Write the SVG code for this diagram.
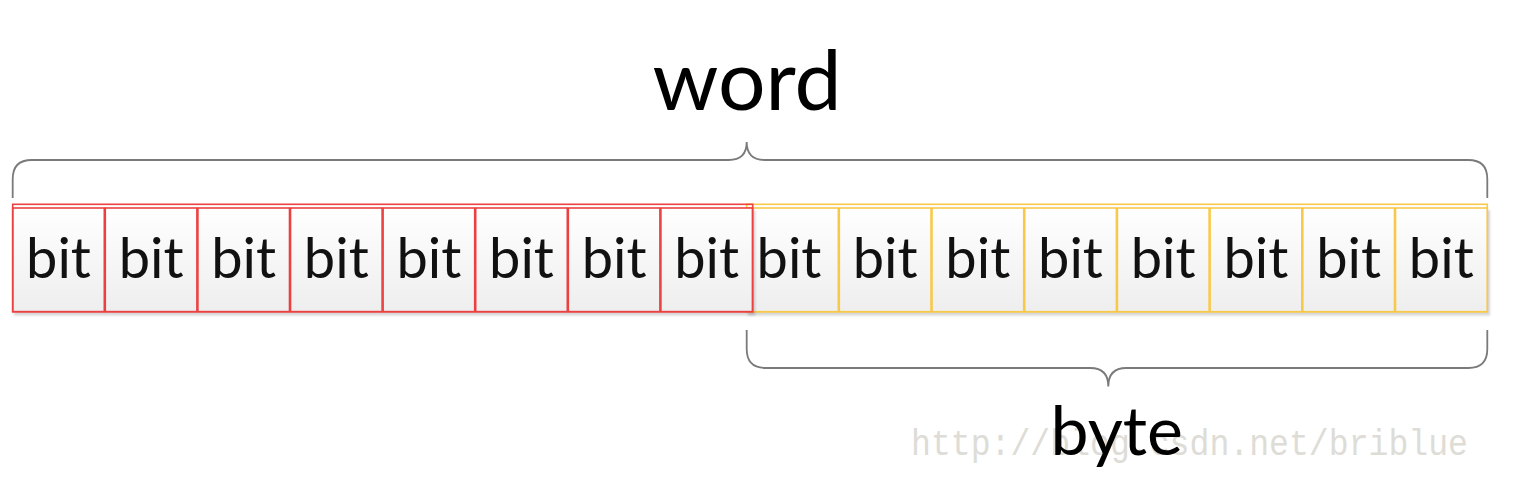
<svg xmlns="http://www.w3.org/2000/svg" width="1538" height="492" viewBox="0 0 1538 492">
  <defs>
    <linearGradient id="cellFill" x1="0" y1="0" x2="0" y2="1">
      <stop offset="0" stop-color="#ffffff"/>
      <stop offset="1" stop-color="#eeeeee"/>
    </linearGradient>
    <filter id="shadow" x="-10%" y="-10%" width="130%" height="130%">
      <feDropShadow dx="2" dy="3" stdDeviation="1" flood-color="#000000" flood-opacity="0.16"/>
    </filter>
  </defs>
  <style>
    .cell { fill: url(#cellFill); stroke-width: 1.6; }
    .red { stroke: #ec4141; }
    .yellow { stroke: #f8c94a; }
    .outer { fill: none; stroke-width: 1.6; }
    .bit { font-family: Lato, "Open Sans", sans-serif; font-size: 56px; fill: #111111; text-anchor: middle; }
    .label { font-family: Lato, "Open Sans", sans-serif; fill: #000000; text-anchor: middle; }
    .brace { fill: none; stroke: #7a7a7a; stroke-width: 1.8; }
    .wm { font-family: "Liberation Mono", monospace; font-size: 36px; fill: #dedcd6; }
  </style>
  <rect width="1538" height="492" fill="#ffffff"/>

  <text class="wm" x="911" y="455" textLength="557" lengthAdjust="spacingAndGlyphs">http://blog.csdn.net/briblue</text>

  <g id="connectors">
    <path class="brace" d="M12.7,198 V179 Q12.7,160 31.7,160 H728.7 Q746.7,160 746.7,142 Q746.7,160 764.7,160 H1468.3 Q1487.3,160 1487.3,179 V198"/>
    <path class="brace" d="M746.7,330 V349 Q746.7,368 765.7,368 H1090.3 Q1108.3,368 1108.3,386.5 Q1108.3,368 1126.3,368 H1468.3 Q1487.3,368 1487.3,349 V330"/>
  </g>

  <g id="byte-group">
    <rect class="outer yellow" x="746.6" y="204.3" width="740.7" height="107.4"/>
    <g id="byte-bits" filter="url(#shadow)">
      <rect class="cell yellow" x="746.6" y="208" width="91.7" height="103.7"/>
      <rect class="cell yellow" x="839.3" y="208" width="91.7" height="103.7"/>
      <rect class="cell yellow" x="932.0" y="208" width="91.7" height="103.7"/>
      <rect class="cell yellow" x="1024.7" y="208" width="91.7" height="103.7"/>
      <rect class="cell yellow" x="1117.4" y="208" width="91.7" height="103.7"/>
      <rect class="cell yellow" x="1210.1" y="208" width="91.7" height="103.7"/>
      <rect class="cell yellow" x="1302.8" y="208" width="91.7" height="103.7"/>
      <rect class="cell yellow" x="1395.5" y="208" width="91.7" height="103.7"/>
    </g>
  </g>

  <g id="word-group">
    <g id="word-bits" filter="url(#shadow)">
      <rect class="cell red" x="12.7" y="208" width="91.6" height="103.7"/>
      <rect class="cell red" x="105.3" y="208" width="91.6" height="103.7"/>
      <rect class="cell red" x="197.9" y="208" width="91.6" height="103.7"/>
      <rect class="cell red" x="290.5" y="208" width="91.6" height="103.7"/>
      <rect class="cell red" x="383.1" y="208" width="91.6" height="103.7"/>
      <rect class="cell red" x="475.7" y="208" width="91.6" height="103.7"/>
      <rect class="cell red" x="568.3" y="208" width="91.6" height="103.7"/>
      <rect class="cell red" x="660.9" y="208" width="91.6" height="103.7"/>
    </g>
    <rect class="outer red" x="12.7" y="204.3" width="740" height="107.4"/>
  </g>

  <g id="bit-labels">
    <text class="bit" x="58.5" y="278">bit</text>
    <text class="bit" x="151.1" y="278">bit</text>
    <text class="bit" x="243.7" y="278">bit</text>
    <text class="bit" x="336.3" y="278">bit</text>
    <text class="bit" x="428.9" y="278">bit</text>
    <text class="bit" x="521.5" y="278">bit</text>
    <text class="bit" x="614.1" y="278">bit</text>
    <text class="bit" x="706.7" y="278">bit</text>
    <text class="bit" x="789" y="278">bit</text>
    <text class="bit" x="885.1" y="278">bit</text>
    <text class="bit" x="977.8" y="278">bit</text>
    <text class="bit" x="1070.5" y="278">bit</text>
    <text class="bit" x="1163.2" y="278">bit</text>
    <text class="bit" x="1255.9" y="278">bit</text>
    <text class="bit" x="1348.6" y="278">bit</text>
    <text class="bit" x="1441.3" y="278">bit</text>
  </g>

  <g id="word-label">
    <text class="label" x="747" y="110" font-size="84">word</text>
  </g>
  <g id="byte-label">
    <text class="label" x="1116.7" y="455" font-size="68">byte</text>
  </g>
</svg>
